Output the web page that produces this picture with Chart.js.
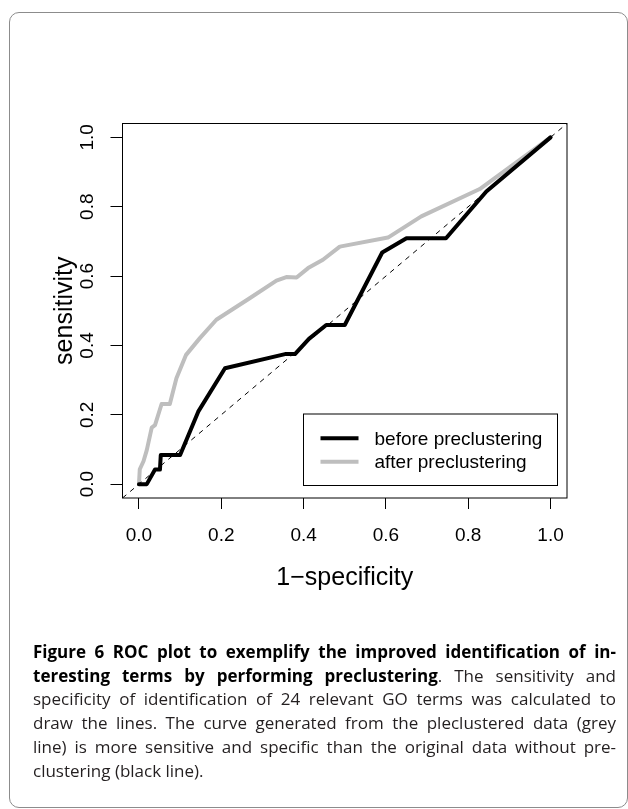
<!DOCTYPE html>
<html>
<head>
<meta charset="utf-8">
<script src="https://cdn.jsdelivr.net/npm/chart.js@4.4.1/dist/chart.umd.min.js"></script>
<style>
  html, body { margin: 0; padding: 0; background: #fff; }
  body { width: 628px; height: 809px; position: relative; overflow: hidden; }
  #frame { position: absolute; left: 8.5px; top: 11.5px; width: 619px; height: 796px;
           border: 1px solid #8c8c8c; border-radius: 10px; box-sizing: border-box; }
  #chart { position: absolute; left: 0; top: 0; }
  #caption { position: absolute; left: 33px; top: 640px; width: 583px;
             font-family: "Open Sans", sans-serif; font-size: 17px; line-height: 23.7px; color: #231f20; }
  #caption div { text-align: justify; text-align-last: justify; white-space: nowrap; }
  #caption div.last { text-align: left; text-align-last: left; }
  #caption b { font-weight: 700; color: #000; }
</style>
</head>
<body>
<div id="frame"></div>
<canvas id="chart" width="628" height="809"></canvas>
<div id="caption">
  <div><b>Figure 6 ROC plot to exemplify the improved identification of in-</b></div>
  <div><b>teresting terms by performing preclustering</b>. The sensitivity and</div>
  <div>specificity of identification of 24 relevant GO terms was calculated to</div>
  <div>draw the lines. The curve generated from the pleclustered data (grey</div>
  <div>line) is more sensitive and specific than the original data without pre-</div>
  <div class="last">clustering (black line).</div>
</div>
<script>
// ---- data ----
const fprBefore = [0, 0.019, 0.039, 0.051, 0.053, 0.100, 0.144, 0.209, 0.355, 0.379, 0.413, 0.455, 0.500, 0.591, 0.650, 0.746, 0.844, 1.0];
const tprBefore = [0, 0, 0.042, 0.042, 0.084, 0.084, 0.209, 0.334, 0.375, 0.375, 0.419, 0.459, 0.459, 0.668, 0.709, 0.709, 0.844, 1.0];
const fprAfter = [0, 0.002, 0.011, 0.019, 0.031, 0.039, 0.055, 0.075, 0.091, 0.114, 0.148, 0.188, 0.269, 0.334, 0.358, 0.383, 0.411, 0.447, 0.488, 0.605, 0.686, 0.828, 1.0];
const tprAfter = [0, 0.043, 0.066, 0.098, 0.163, 0.170, 0.231, 0.231, 0.305, 0.372, 0.421, 0.474, 0.536, 0.587, 0.597, 0.596, 0.623, 0.647, 0.685, 0.711, 0.772, 0.851, 1.0];
const refLine = [-0.04, 1.04];
const tickValues = [0, 0.2, 0.4, 0.6, 0.8, 1.0];
const seriesLabels = ['before preclustering', 'after preclustering'];
const seriesColors = ['#000000', '#bebebe'];
const axisRange = [-0.04, 1.04];

const toPoints = (xs, ys) => xs.map((x, i) => ({ x: x, y: ys[i] }));

const boxPlugin = {
  id: 'rbox',
  afterDraw(chart) {
    const { ctx, chartArea: a } = chart;
    ctx.save();
    ctx.strokeStyle = '#000';
    ctx.lineWidth = 1;
    ctx.strokeRect(a.left, a.top, a.right - a.left, a.bottom - a.top);
    // legend
    const w = 254, h = 71.5;
    const bx = a.right - 9.5 - w, by = a.bottom - 12.5 - h;
    ctx.fillStyle = '#fff';
    ctx.fillRect(bx, by, w, h);
    ctx.strokeRect(bx, by, w, h);
    ctx.font = '19px "Liberation Sans", Arial, sans-serif';
    ctx.textBaseline = 'middle';
    ctx.textAlign = 'left';
    const rows = [by + 24.3, by + 47.7];
    [1, 2].forEach((di, i) => {
      const ds = chart.data.datasets[di];
      ctx.strokeStyle = ds.borderColor;
      ctx.lineWidth = 4;
      ctx.lineCap = 'butt';
      ctx.beginPath();
      ctx.moveTo(bx + 17, rows[i]);
      ctx.lineTo(bx + 55, rows[i]);
      ctx.stroke();
      ctx.fillStyle = '#000';
      ctx.fillText(ds.label, bx + 71, rows[i] + 1);
    });
    ctx.restore();
  }
};

const tickFont = { family: '"Liberation Sans", Arial, sans-serif', size: 19 };
const titleFont = { family: '"Liberation Sans", Arial, sans-serif', size: 25 };

new Chart(document.getElementById('chart'), {
  type: 'scatter',
  data: {
    datasets: [
      { label: 'reference', data: toPoints(refLine, refLine), showLine: true,
        borderColor: '#000', borderWidth: 1, borderDash: [5, 5], pointRadius: 0 },
      { label: seriesLabels[0], data: toPoints(fprBefore, tprBefore), showLine: true,
        borderColor: seriesColors[0], borderWidth: 4, pointRadius: 0,
        borderCapStyle: 'round', borderJoinStyle: 'round' },
      { label: seriesLabels[1], data: toPoints(fprAfter, tprAfter), showLine: true,
        borderColor: seriesColors[1], borderWidth: 4, pointRadius: 0,
        borderCapStyle: 'round', borderJoinStyle: 'round' }
    ]
  },
  options: {
    responsive: false,
    animation: false,
    events: [],
    layout: { padding: { left: 0, top: 123.5, right: 61, bottom: 201 } },
    plugins: { legend: { display: false }, tooltip: { enabled: false } },
    scales: {
      x: {
        type: 'linear', min: axisRange[0], max: axisRange[1],
        afterBuildTicks: s => { s.ticks = tickValues.map(v => ({ value: v })); },
        afterFit: s => { s.height = 110; },
        border: { display: false },
        grid: { drawOnChartArea: false, drawTicks: true, tickLength: 11, color: '#000', lineWidth: 1 },
        ticks: { font: tickFont, color: '#000', padding: 15, minRotation: 0, maxRotation: 0, autoSkip: false,
                 callback: v => v.toFixed(1) },
        title: { display: true, text: '1\u2212specificity', font: titleFont, color: '#000',
                 padding: { top: 0, bottom: 15 } }
      },
      y: {
        type: 'linear', min: axisRange[0], max: axisRange[1],
        afterBuildTicks: s => { s.ticks = tickValues.map(v => ({ value: v })); },
        afterFit: s => { s.width = 122.5; },
        border: { display: false },
        grid: { drawOnChartArea: false, drawTicks: true, tickLength: 12, color: '#000', lineWidth: 1 },
        ticks: { font: tickFont, color: '#000', padding: 9.5, minRotation: 90, maxRotation: 90,
                 crossAlign: 'center', autoSkip: false, callback: v => v.toFixed(1) },
        title: { display: true, text: 'sensitivity', font: titleFont, color: '#000',
                 padding: { top: 50.5, bottom: 0 } }
      }
    }
  },
  plugins: [boxPlugin]
});
</script>
</body>
</html>
